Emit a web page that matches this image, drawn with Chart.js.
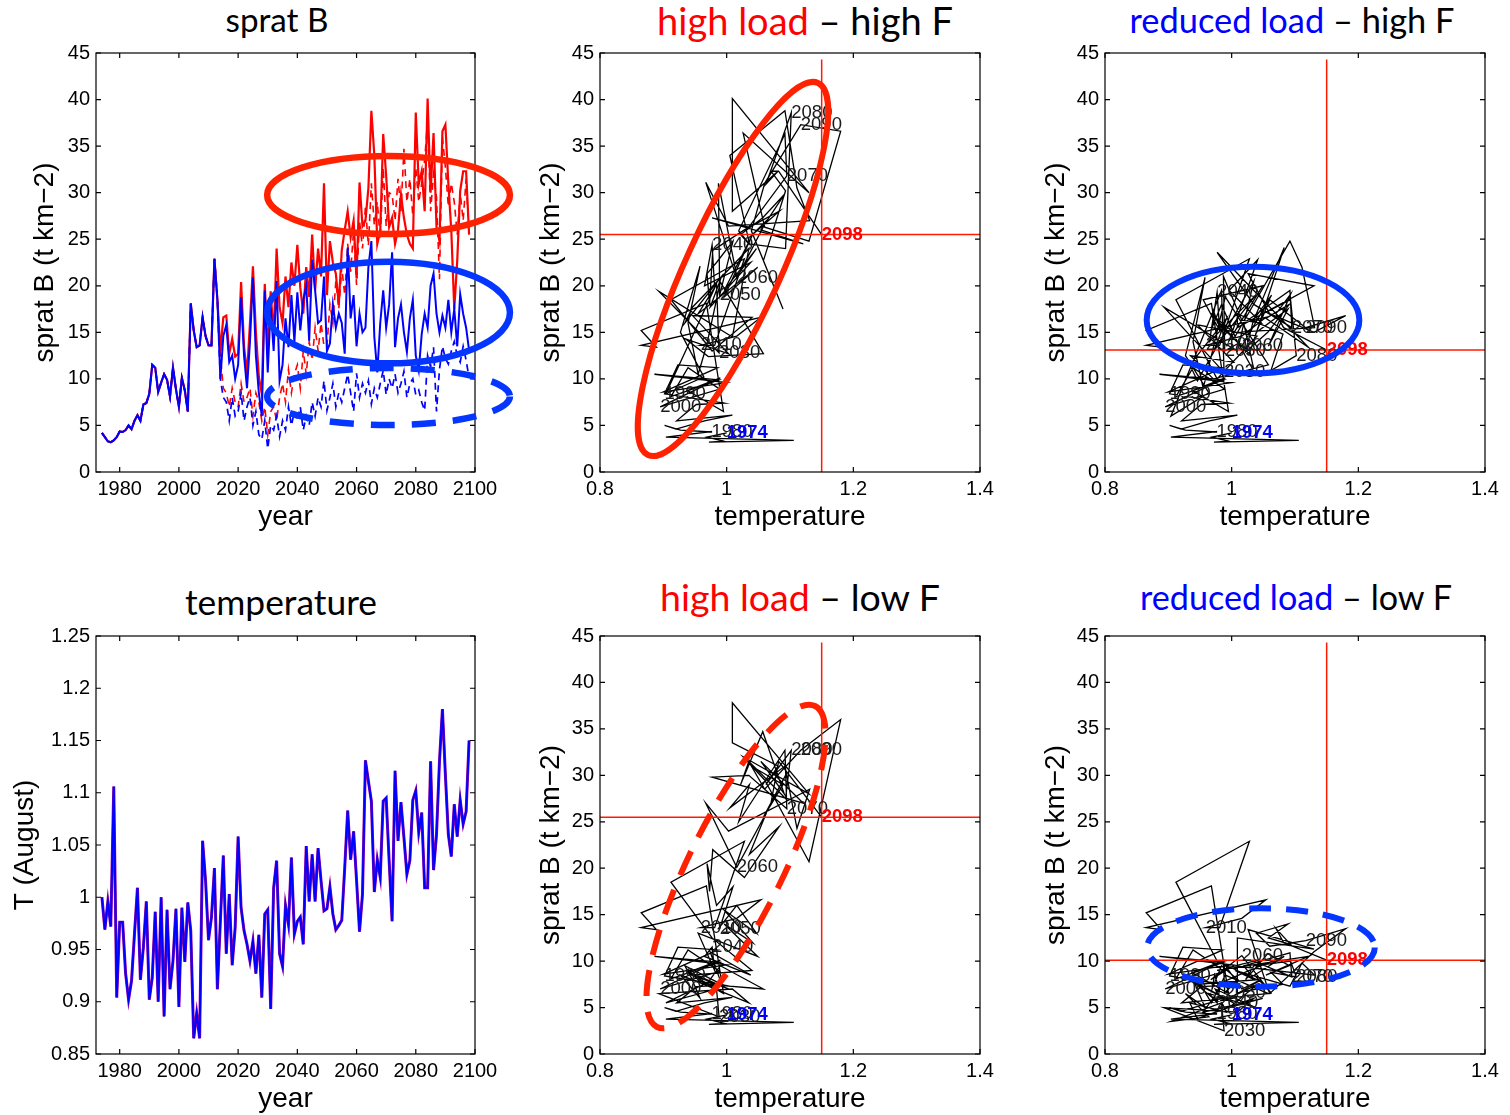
<!DOCTYPE html>
<html>
<head>
<meta charset="utf-8">
<script src="https://cdn.jsdelivr.net/npm/chart.js@4.4.1/dist/chart.umd.min.js"></script>
<style>
html, body { margin: 0; padding: 0; background: #fff; overflow: hidden; }
body { width: 1510px; height: 1115px; position: relative; }
canvas { position: absolute; }
.title { position: absolute; white-space: nowrap; font-family: "Lato", sans-serif; line-height: 1; transform: translate(-50%, -50%); color: #000; }
.red { color: #ff0000; }
.blue { color: #0000ff; }
</style>
</head>
<body>
<div class="title" id="t1">sprat B</div>
<div class="title" id="t2"><span class="red">high load</span> – high F</div>
<div class="title" id="t3"><span class="blue">reduced load</span> – high F</div>
<div class="title" id="t4">temperature</div>
<div class="title" id="t5"><span class="red">high load</span> – low F</div>
<div class="title" id="t6"><span class="blue">reduced load</span> – low F</div>
<script>
// Jahre der Simulation
const firstYear = 1974, lastYear = 2098;
const years = Array.from({length: lastYear - firstYear + 1}, (_, i) => firstYear + i);

// Augusttemperatur 1974-2098
const tempAug = [
  1.000, 0.969, 0.996, 0.972, 1.106, 0.904, 0.976, 0.976, 0.927, 0.902,
  0.920, 0.965, 1.009, 0.921, 0.952, 0.996, 0.902, 0.923, 0.986, 0.900,
  1.000, 0.886, 0.988, 0.912, 0.939, 0.989, 0.895, 0.990, 0.938, 0.995,
  0.968, 0.865, 0.889, 0.865, 1.054, 1.016, 0.959, 0.981, 1.028, 0.912,
  0.977, 1.040, 0.946, 1.003, 0.935, 0.971, 1.058, 0.990, 0.968, 0.955,
  0.939, 0.958, 0.927, 0.964, 0.904, 0.984, 0.988, 0.893, 1.009, 1.035,
  0.946, 0.934, 0.992, 0.974, 1.038, 0.965, 0.977, 0.981, 0.955, 1.049,
  0.996, 1.041, 0.996, 1.047, 1.016, 0.987, 0.989, 1.010, 0.984, 0.969,
  0.973, 0.978, 1.028, 1.083, 1.036, 1.063, 1.016, 0.967, 1.003, 1.131,
  1.111, 1.092, 1.005, 1.036, 1.019, 1.092, 1.095, 1.035, 0.977, 1.121,
  1.054, 1.091, 1.057, 1.022, 1.035, 1.093, 1.102, 1.062, 1.081, 1.009,
  1.009, 1.130, 1.026, 1.060, 1.130, 1.180, 1.117, 1.060, 1.039, 1.089,
  1.058, 1.093, 1.070, 1.082, 1.150
];

// Sprat Biomasse 1974-2013 (gemeinsamer Verlauf)
const spratHist = [
  4.2, 3.75, 3.3, 3.2, 3.4, 3.75, 4.35, 4.3, 4.5, 5.0,
  4.6, 5.5, 6.1, 5.5, 7.25, 7.4, 8.4, 11.5, 11.2, 8.6,
  9.6, 10.5, 9.9, 8.1, 11.2, 8.9, 7.0, 10.1, 8.75, 6.5,
  18.1, 15.2, 13.4, 13.6, 16.6, 14.6, 13.6, 13.6, 22.9, 18.5
];

// Szenarien 2014-2098
const highLoadHighF = [
  13.0, 16.6, 16.8, 12.7, 14.3, 12.4, 12.7, 20.4, 13.5, 10.5,
  16.0, 22.1, 15.0, 10.2, 8.4, 20.2, 12.8, 19.4, 14.5, 24.0,
  17.7, 16.0, 21.0, 17.7, 22.5, 20.0, 24.4, 19.8, 17.0, 22.0,
  18.8, 25.5, 19.5, 24.0, 21.0, 31.0, 19.0, 24.8, 22.5, 21.3,
  18.0, 23.8, 26.0, 28.0, 25.2, 27.0, 20.8, 31.1, 26.4, 27.0,
  30.5, 38.8, 34.0, 24.5, 25.9, 36.3, 31.8, 26.3, 27.3, 24.5,
  26.0, 29.8, 27.3, 25.5, 24.5, 24.0, 38.6, 30.9, 32.3, 28.0,
  40.1, 30.0, 36.4, 26.3, 24.8, 36.6, 37.3, 31.0, 25.9, 17.5,
  22.7, 30.2, 32.3, 32.3, 25.5
];
const reducedLoadHighF = [
  10.0, 14.6, 15.8, 11.8, 12.5, 10.0, 11.5, 18.8, 12.5, 9.0,
  14.0, 20.9, 12.5, 8.5, 6.0, 19.5, 10.7, 17.7, 13.0, 20.5,
  9.8, 11.5, 16.5, 13.4, 19.0, 14.0, 19.3, 15.2, 18.5, 20.0,
  14.1, 22.8, 19.5, 16.0, 16.3, 21.0, 13.0, 13.8, 18.0, 15.5,
  17.0, 16.0, 12.7, 24.1, 16.5, 19.0, 13.5, 17.0, 15.0, 15.5,
  22.0, 24.8, 14.5, 10.7, 16.0, 19.5, 15.5, 18.0, 23.6, 13.4,
  16.5, 18.0, 15.0, 12.9, 16.5, 18.5, 12.5, 10.9, 14.8, 17.0,
  15.5, 20.0, 21.3, 17.0, 15.0, 16.8, 15.5, 18.5, 15.0, 17.5,
  13.5, 19.1, 17.0, 15.5, 13.1
];
const highLoadLowF = [
  12.5, 9.0, 8.5, 7.0, 9.0, 7.5, 7.0, 9.5, 7.5, 8.0,
  9.0, 6.0, 8.5, 7.5, 5.5, 7.0, 4.0, 6.5, 7.0, 5.5,
  8.0, 9.5, 7.5, 11.0, 8.5, 10.5, 11.5, 9.0, 13.0, 10.5,
  14.0, 12.0, 15.5, 13.0, 16.0, 13.5, 13.5, 18.0, 16.0, 20.5,
  17.5, 22.0, 19.0, 24.5, 21.5, 26.0, 20.1, 27.0, 24.0, 28.5,
  24.3, 31.0, 26.5, 29.0, 25.0, 32.7, 26.4, 30.0, 29.8, 27.0,
  31.5, 28.0, 34.7, 29.0, 31.5, 27.5, 32.7, 29.0, 31.0, 33.5,
  37.8, 28.0, 32.0, 29.5, 20.7, 36.0, 32.7, 28.5, 31.0, 29.0,
  25.5, 30.0, 27.0, 31.5, 25.5
];
const reducedLoadLowF = [
  10.0, 8.0, 7.5, 5.5, 8.0, 6.0, 6.5, 8.5, 5.5, 7.0,
  8.0, 5.0, 6.5, 4.0, 3.5, 5.5, 2.5, 5.0, 4.5, 6.0,
  3.8, 5.5, 4.5, 7.0, 5.0, 6.5, 5.5, 7.0, 4.5, 6.0,
  5.0, 7.5, 6.0, 8.0, 7.0, 9.8, 6.6, 8.0, 9.5, 7.0,
  8.5, 7.5, 9.0, 10.5, 8.5, 6.5, 10.6, 8.0, 9.5, 8.5,
  9.8, 7.3, 9.0, 8.0, 9.5, 10.9, 8.3, 10.0, 9.0, 10.5,
  8.5, 9.5, 10.8, 8.0, 9.5, 10.0, 8.3, 8.8, 7.5, 6.6,
  12.5, 11.3, 13.4, 6.5, 11.0, 13.5, 12.2, 11.6, 13.0, 14.0,
  12.5, 11.8, 13.5, 12.0, 10.1
];

// beschriftete Jahre in den Phasendiagrammen
const labelYears = [1980, 1990, 2000, 2010, 2030, 2040, 2050, 2060, 2070, 2080, 2090];

// Achsenticks
const yearTicks = [1980, 2000, 2020, 2040, 2060, 2080, 2100];
const spratTicks = [0, 5, 10, 15, 20, 25, 30, 35, 40, 45];
const tempTicks = [0.8, 1, 1.2, 1.4];
const augTicks = [0.85, 0.9, 0.95, 1, 1.05, 1.1, 1.15, 1.2, 1.25];

const sRS = spratHist.concat(highLoadHighF);
const sBS = spratHist.concat(reducedLoadHighF);
const sRD = spratHist.concat(highLoadLowF);
const sBD = spratHist.concat(reducedLoadLowF);

const RED_E = "#ff2200", BLUE_E = "#0536ff";
const FONT = '"Liberation Sans", Arial, sans-serif';

function pts(xs, ys) {
  return xs.map((v, i) => ({x: v, y: ys[i]}));
}

// Rahmen, Ticks nach innen, Fadenkreuz, Jahreszahlen, Ellipsen
const panelDecor = {
  id: "panelDecor",
  afterDatasetsDraw(chart, args, opts) {
    const {ctx, chartArea: a, scales: {x, y}} = chart;
    if (opts.series) {
      const n = opts.series.length - 1;
      const cx = tempAug[n], cy = opts.series[n];
      ctx.save();
      ctx.beginPath();
      ctx.rect(a.left, a.top, a.right - a.left, a.bottom - a.top);
      ctx.clip();
      ctx.strokeStyle = "#ff1a00";
      ctx.lineWidth = 1.5;
      ctx.beginPath();
      const px = x.getPixelForValue(cx), py = y.getPixelForValue(cy);
      ctx.moveTo(px, a.bottom);
      ctx.lineTo(px, y.getPixelForValue(44.3));
      ctx.moveTo(a.left, py);
      ctx.lineTo(a.right, py);
      ctx.stroke();
      ctx.restore();

      ctx.save();
      ctx.textAlign = "left";
      ctx.textBaseline = "middle";
      ctx.font = "18.5px " + FONT;
      ctx.fillStyle = "#1a1a1a";
      labelYears.forEach(yr => {
        const i = years.indexOf(yr);
        ctx.fillText(String(yr), x.getPixelForValue(tempAug[i]), y.getPixelForValue(opts.series[i]));
      });
      ctx.font = "bold 18.5px " + FONT;
      ctx.fillStyle = "#0000ff";
      ctx.fillText(String(firstYear), x.getPixelForValue(tempAug[0]), y.getPixelForValue(opts.series[0]));
      ctx.fillStyle = "#ff0000";
      ctx.fillText(String(lastYear), px, py);
      ctx.restore();
    }
  },
  afterDraw(chart, args, opts) {
    const {ctx, chartArea: a, scales: {x, y}} = chart;
    ctx.save();
    ctx.strokeStyle = "#000";
    ctx.lineWidth = 1.2;
    ctx.strokeRect(a.left, a.top, a.right - a.left, a.bottom - a.top);
    ctx.beginPath();
    x.ticks.forEach(t => {
      const p = x.getPixelForValue(t.value);
      ctx.moveTo(p, a.bottom); ctx.lineTo(p, a.bottom - 5);
      ctx.moveTo(p, a.top); ctx.lineTo(p, a.top + 5);
    });
    y.ticks.forEach(t => {
      const p = y.getPixelForValue(t.value);
      ctx.moveTo(a.left, p); ctx.lineTo(a.left + 5, p);
      ctx.moveTo(a.right, p); ctx.lineTo(a.right - 5, p);
    });
    ctx.stroke();
    ctx.restore();

    (opts.ellipses || []).forEach(e => {
      ctx.save();
      ctx.strokeStyle = e.color;
      ctx.lineWidth = e.width;
      ctx.setLineDash(e.dash || []);
      ctx.beginPath();
      if (e.tips) {
        const x1 = x.getPixelForValue(e.tips[0][0]), y1 = y.getPixelForValue(e.tips[0][1]);
        const x2 = x.getPixelForValue(e.tips[1][0]), y2 = y.getPixelForValue(e.tips[1][1]);
        const len = Math.hypot(x2 - x1, y2 - y1) / 2;
        ctx.ellipse((x1 + x2) / 2, (y1 + y2) / 2, len, e.half, Math.atan2(y2 - y1, x2 - x1), 0, Math.PI * 2);
      } else {
        const px = x.getPixelForValue(e.cx), py = y.getPixelForValue(e.cy);
        const rx = Math.abs(x.getPixelForValue(e.cx + e.rx) - px);
        const ry = Math.abs(y.getPixelForValue(e.cy + e.ry) - py);
        ctx.ellipse(px, py, rx, ry, 0, 0, Math.PI * 2);
      }
      ctx.stroke();
      ctx.restore();
    });
  }
};

function makePanel(area, p) {
  const ML = 96, MT = 20, MR = 50, MB = 70;
  const w = area.right - area.left + ML + MR;
  const h = area.bottom - area.top + MT + MB;
  const canvas = document.createElement("canvas");
  canvas.width = w;
  canvas.height = h;
  canvas.style.left = (area.left - ML) + "px";
  canvas.style.top = (area.top - MT) + "px";
  canvas.style.width = w + "px";
  canvas.style.height = h + "px";
  document.body.appendChild(canvas);

  const tickFont = {family: FONT, size: 20};
  const titleFont = {family: FONT, size: 28};
  return new Chart(canvas, {
    type: "scatter",
    data: {datasets: p.datasets},
    options: {
      responsive: false,
      animation: false,
      devicePixelRatio: 1,
      layout: {padding: {left: 0, top: MT, right: MR, bottom: 0}},
      elements: {point: {radius: 0}, line: {tension: 0}},
      plugins: {
        legend: {display: false},
        tooltip: {enabled: false},
        panelDecor: {series: p.series, ellipses: p.ellipses}
      },
      scales: {
        x: {
          type: "linear", min: p.xMin, max: p.xMax,
          afterBuildTicks: s => { s.ticks = p.xTicks.map(v => ({value: v})); },
          afterFit: s => { s.height = MB; },
          grid: {display: false, drawTicks: false},
          border: {display: false},
          ticks: {font: tickFont, color: "#000", padding: 5, maxRotation: 0, autoSkip: false, callback: v => String(v)},
          title: {display: true, text: p.xTitle, font: titleFont, color: "#000", padding: {top: 0, bottom: 8.2}}
        },
        y: {
          type: "linear", min: p.yMin, max: p.yMax,
          afterBuildTicks: s => { s.ticks = p.yTicks.map(v => ({value: v})); },
          afterFit: s => { s.width = ML; },
          grid: {display: false, drawTicks: false},
          border: {display: false},
          ticks: {font: tickFont, color: "#000", padding: 6, autoSkip: false, callback: v => String(v)},
          title: {display: true, text: p.yTitle, font: titleFont, color: "#000", padding: {top: p.yTitlePad, bottom: 0}}
        }
      }
    },
    plugins: [panelDecor]
  });
}

function lineSet(data, color, width, dash) {
  return {data: data, showLine: true, borderColor: color, borderWidth: width, borderDash: dash || [], pointRadius: 0, fill: false};
}

const spratTitle = "sprat B (t km\u22122)";

// oben links: Zeitreihe sprat B
makePanel({left: 96, top: 53, right: 475, bottom: 472}, {
  datasets: [
    lineSet(pts(years, sBD), "#0000ff", 1.7, [7, 5]),
    lineSet(pts(years, sBS), "#0000ff", 2),
    lineSet(pts(years, sRD), "#ff0000", 1.6, [7, 5]),
    lineSet(pts(years, sRS), "#ff0000", 2.2)
  ],
  xMin: 1972, xMax: 2100, xTicks: yearTicks,
  yMin: 0, yMax: 45, yTicks: spratTicks,
  xTitle: "year", yTitle: spratTitle, yTitlePad: 28.7,
  ellipses: [
    {cx: 2070.8, cy: 29.75, rx: 41.0, ry: 4.19, color: RED_E, width: 6.5},
    {cx: 2070.8, cy: 17.13, rx: 41.0, ry: 5.46, color: BLUE_E, width: 6.5},
    {cx: 2070.8, cy: 8.11, rx: 41.0, ry: 3.06, color: BLUE_E, width: 6.5, dash: [24, 17]}
  ]
});

// unten links: Temperatur
makePanel({left: 96, top: 636, right: 475, bottom: 1054}, {
  datasets: [
    lineSet(pts(years, tempAug), "#0000ff", 2),
    lineSet(pts(years, tempAug), "#a0009f", 3)
  ],
  xMin: 1972, xMax: 2100, xTicks: yearTicks,
  yMin: 0.85, yMax: 1.25, yTicks: augTicks,
  xTitle: "year", yTitle: "T (August)", yTitlePad: 8.2
});

// Phasendiagramme
const phasePanels = [
  {area: {left: 600, top: 53, right: 980, bottom: 472}, series: sRS,
   ellipses: [{tips: [[0.8758, 1.83], [1.1442, 41.78]], half: 47, color: RED_E, width: 6}]},
  {area: {left: 1105, top: 53, right: 1485, bottom: 472}, series: sBS,
   ellipses: [{cx: 1.0337, cy: 16.32, rx: 0.1679, ry: 5.72, color: BLUE_E, width: 6}]},
  {area: {left: 600, top: 636, right: 980, bottom: 1054}, series: sRD,
   ellipses: [{tips: [[0.890, 2.91], [1.1395, 37.46]], half: 47, color: RED_E, width: 6, dash: [26, 16]}]},
  {area: {left: 1105, top: 636, right: 1485, bottom: 1054}, series: sBD,
   ellipses: [{cx: 1.0463, cy: 11.47, rx: 0.1797, ry: 4.22, color: BLUE_E, width: 6, dash: [22, 15]}]}
];
phasePanels.forEach(pp => {
  makePanel(pp.area, {
    datasets: [lineSet(pts(tempAug, pp.series), "#000", 1.3)],
    xMin: 0.8, xMax: 1.4, xTicks: tempTicks,
    yMin: 0, yMax: 45, yTicks: spratTicks,
    xTitle: "temperature", yTitle: spratTitle, yTitlePad: 30.2,
    series: pp.series, ellipses: pp.ellipses
  });
});

// Titel
function fitTitle(id, cx, cy, width) {
  const el = document.getElementById(id);
  el.style.fontSize = "100px";
  const w0 = el.getBoundingClientRect().width;
  el.style.fontSize = (100 * width / w0) + "px";
  el.style.left = cx + "px";
  el.style.top = cy + "px";
}
fitTitle("t1", 277, 20, 103);
fitTitle("t2", 805, 20, 296);
fitTitle("t3", 1292, 20, 325);
fitTitle("t4", 281, 602, 192);
fitTitle("t5", 800, 597, 280);
fitTitle("t6", 1296, 597, 312);
</script>
</body>
</html>
